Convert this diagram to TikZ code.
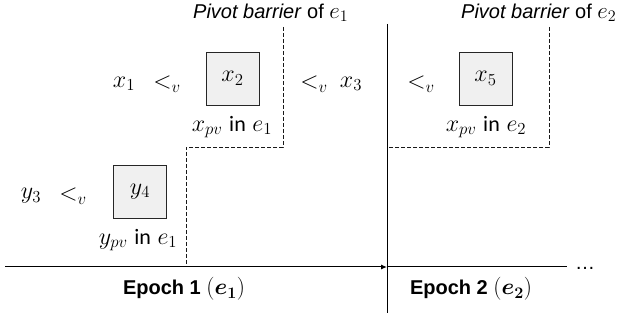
\RequirePackage{fix-cm}
\documentclass[tikz,border=0pt]{standalone}
\usepackage{amsmath}
\usepackage{fontspec}
\setmainfont{Liberation Sans}
\newfontfamily\calfont{Carlito}
\usetikzlibrary{arrows.meta}
\newcommand{\lblmath}[1]{{\fontsize{23}{26}\selectfont$#1$}}
\tikzset{
  pbox/.style={draw=black!85, line width=0.9pt, fill=black!6, minimum size=53pt, inner sep=0pt, font=\fontsize{24}{28}\selectfont},
  mtxt/.style={inner sep=0pt, font=\fontsize{24}{28}\selectfont},
  lbl/.style={inner sep=0pt, font=\fontsize{20}{24}\selectfont},
  barrier/.style={draw=black!90, line width=0.9pt, dash pattern=on 4pt off 2pt},
  axis/.style={draw=black, line width=1pt},
}
\begin{document}
\begin{tikzpicture}[x=1pt,y=-1pt]
\useasboundingbox (0,0) rectangle (621,320);
% barriers
\coordinate (b1a) at (283,27);
\coordinate (b1b) at (283,147);
\coordinate (b1c) at (186,147);
\coordinate (b1d) at (186,267);
\coordinate (b2a) at (549,27);
\coordinate (b2b) at (549,147);
\coordinate (b2c) at (387,147);
\draw[barrier] (b1a) -- (b1b) -- (b1c) -- (b1d);
\draw[barrier] (b2a) -- (b2b) -- (b2c);
% axis
\coordinate (a0) at (5,267);
\coordinate (a1) at (387,267);
\coordinate (a2) at (567,267);
\coordinate (v0) at (387,24);
\coordinate (v1) at (387,313);
\draw[axis, -{Latex[length=6pt,width=5pt]}] (a0) -- (a1);
\draw[axis] (a1) -- (a2);
\draw[axis] (v0) -- (v1);
\node[lbl, anchor=west] (dots) at (575,268) {\dots};
% labels
\node[lbl, anchor=west] (pb1) at (193,13) {\textit{Pivot barrier} of \lblmath{e_1}};
\node[lbl, anchor=west] (pb2) at (461,13) {\textit{Pivot barrier} of \lblmath{e_2}};
% row x
\node[mtxt] (x1) at (124,84) {$x_1$};
\node[mtxt] (lt1) at (167,84) {$<_v$};
\node[pbox] (x2) at (232.5,78.5) {$x_2$};
\node[mtxt] (lt2) at (314,84) {$<_v$};
\node[mtxt] (x3) at (351,84) {$x_3$};
\node[mtxt] (lt3) at (421,84) {$<_v$};
\node[pbox] (x5) at (485.5,78.5) {$x_5$};
\node[mtxt] (xpv1) at (232,127) {$x_{pv}$ {\fontsize{22}{26}\calfont in} $e_1$};
\node[mtxt] (xpv2) at (486,127) {$x_{pv}$ {\fontsize{22}{26}\calfont in} $e_2$};
% row y
\node[mtxt] (y3) at (31,196) {$y_3$};
\node[mtxt] (lt4) at (73,196) {$<_v$};
\node[pbox] (y4) at (140,191.5) {$y_4$};
\node[mtxt] (ypv1) at (138,240) {$y_{pv}$ {\fontsize{22}{26}\calfont in} $e_1$};
% epochs
\node[lbl] (ep1) at (184,289) {\textbf{Epoch 1} \lblmath{(\boldsymbol{e_1})}};
\node[lbl] (ep2) at (471,289) {\textbf{Epoch 2} \lblmath{(\boldsymbol{e_2})}};
\end{tikzpicture}
\end{document}
